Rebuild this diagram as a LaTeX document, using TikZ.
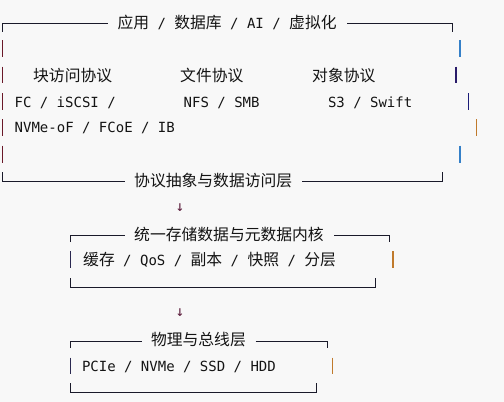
\documentclass[tikz,border=0pt]{standalone}
\usepackage{fontspec}
\newfontfamily\cjkf{Noto Sans CJK SC}
\newfontfamily\monof{DejaVu Sans Mono}
\newcommand\C[1]{{\cjkf\fontsize{15.8}{18}\selectfont #1}}
\definecolor{bg}{HTML}{F8F8F8}
\definecolor{ink}{HTML}{141414}
\definecolor{lineink}{HTML}{1A1A2A}
\definecolor{leftred}{HTML}{6A1828}
\definecolor{leftnavy}{HTML}{2A2850}
\definecolor{barblue}{HTML}{3580C8}
\definecolor{barpurple}{HTML}{2A1C6A}
\definecolor{barnavy}{HTML}{1C1C78}
\definecolor{barorange}{HTML}{C07A2C}
\definecolor{arrowred}{HTML}{5A1A3A}
\begin{document}
\begin{tikzpicture}[x=1pt,y=-1pt,
  txt/.style={anchor=base west,inner sep=0pt,outer sep=0pt,font=\monof\fontsize{14}{16}\selectfont,text=ink},
  frame/.style={draw=lineink,line width=0.9pt},
  bar/.style={line width=1.1pt},
  downglyph/.style={inner sep=0pt,font=\monof\fontsize{14.5}{16}\selectfont,text=arrowred}]
\fill[bg] (0,0) rectangle (504,402);
\useasboundingbox (0,0) rectangle (504,402);

% ---------- box 1 ----------
\node[txt] (t1) at (117.5,28.5) {\C{应用} / \C{数据库} / AI / \C{虚拟化}};
\node[txt] (p1) at (33.2,81) {\C{块访问协议}};
\node[txt] (p2) at (180.2,81) {\C{文件协议}};
\node[txt] (p3) at (312.2,81) {\C{对象协议}};
\node[txt] (l1) at (14.6,107.5) {FC / iSCSI /};
\node[txt] (l2) at (183.7,107.5) {NFS / SMB};
\node[txt] (l3) at (328,107.5) {S3 / Swift};
\node[txt] (l4) at (14.7,132.5) {NVMe-oF / FCoE / IB};
\node[txt] (b1) at (134.2,186) {\C{协议抽象与数据访问层}};

\draw[frame] (2.7,31.7) -- (2.7,23.5) -- (108.3,23.5);
\draw[frame] (347,23.5) -- (452.3,23.5) -- (452.3,31.7);
\draw[frame] (2.7,172.3) -- (2.7,181.5) -- (125,181.5);
\draw[frame] (302.3,181.5) -- (442.3,181.5) -- (442.3,172.3);
\foreach \a/\b in {40/56.7,66.7/82.7,93.3/110,119.3/136,145.7/163.3}
  \draw[bar,leftred] (2.7,\a) -- (2.7,\b);
\draw[bar,barblue]   (460,40) -- (460,56.7);
\draw[bar,barpurple] (456,66.7) -- (456,82.7);
\draw[bar,barnavy]   (468.3,93.3) -- (468.3,110);
\draw[bar,barorange] (476.7,119.3) -- (476.7,136);
\draw[bar,barblue]   (460,145.7) -- (460,163.3);

\node[downglyph] (a1) at (180,207.5) {↓};

% ---------- box 2 ----------
\node[txt] (t2) at (134.2,240) {\C{统一存储数据与元数据内核}};
\node[txt] (r2) at (83.2,265) {\C{缓存} / QoS / \C{副本} / \C{快照} / \C{分层}};
\draw[frame] (70.5,242) -- (70.5,235.5) -- (125,235.5);
\draw[frame] (334,235.5) -- (389,235.5) -- (389,242);
\draw[bar,leftnavy] (70.5,251) -- (70.5,268);
\draw[bar,barorange] (393,251) -- (393,268);
\draw[frame] (70.5,278) -- (70.5,287) -- (375,287) -- (375,278);

\node[downglyph] (a2) at (180,313) {↓};

% ---------- box 3 ----------
\node[txt] (t3) at (151,345) {\C{物理与总线层}};
\node[txt] (r3) at (82,371) {PCIe / NVMe / SSD / HDD};
\draw[frame] (70.5,348) -- (70.5,341) -- (141.7,341);
\draw[frame] (255.7,341) -- (327.3,341) -- (327.3,348);
\draw[bar,leftnavy] (70.5,357.7) -- (70.5,374.3);
\draw[bar,barorange] (332.7,357.7) -- (332.7,374.3);
\draw[frame] (70.5,383.3) -- (70.5,392) -- (316,392) -- (316,383.3);
\end{tikzpicture}
\end{document}
